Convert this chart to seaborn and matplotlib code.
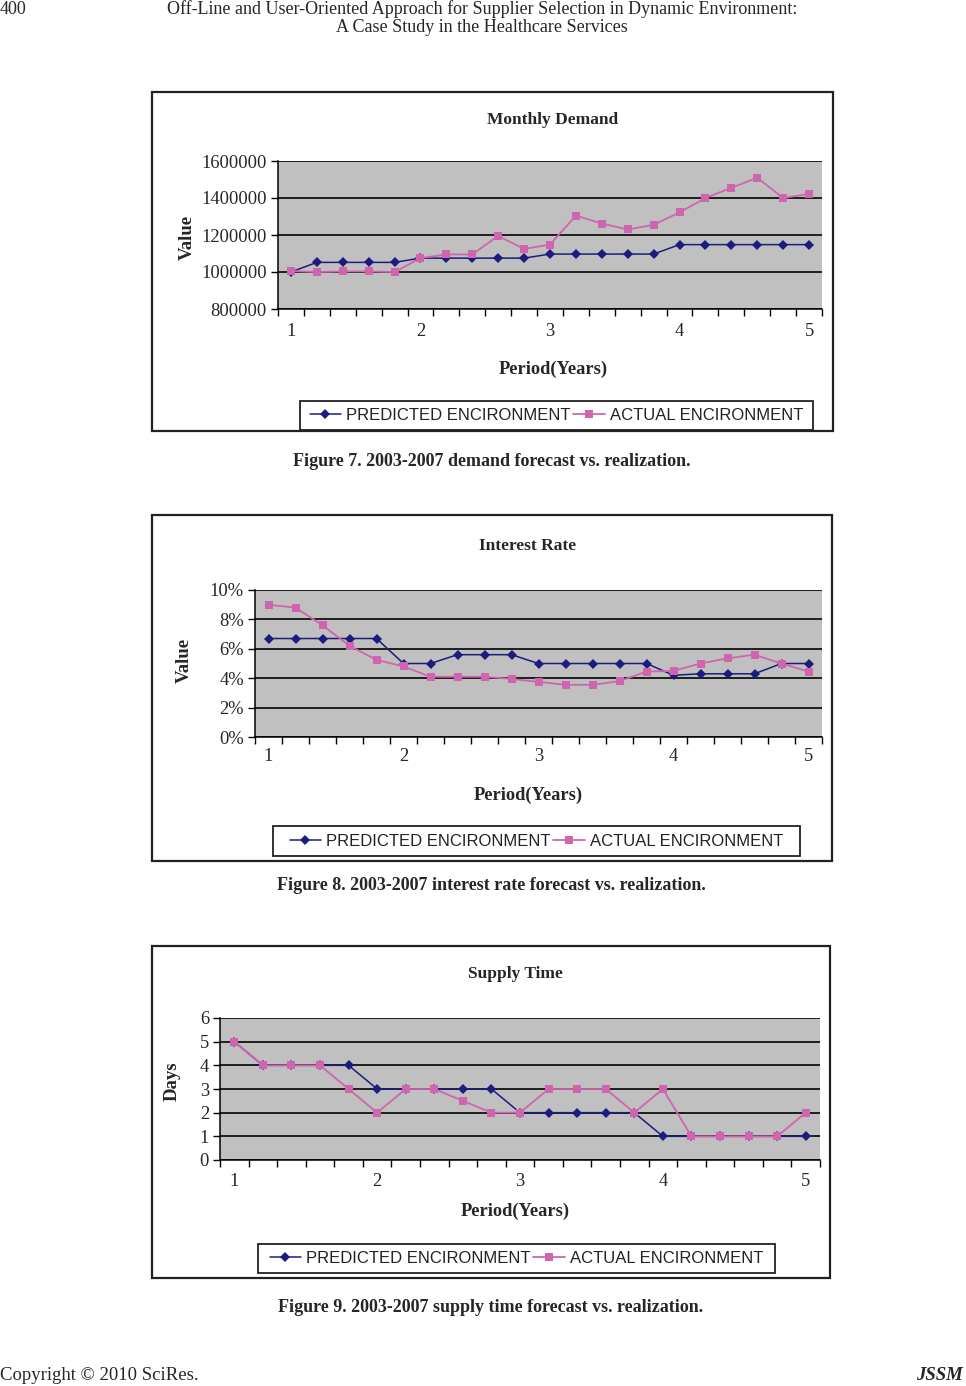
import numpy as np
import pandas as pd
import matplotlib
matplotlib.use("Agg")
import matplotlib.pyplot as plt
import seaborn as sns
from matplotlib.patches import Rectangle

# ---------------- data ----------------
period_labels = ["1", "2", "3", "4", "5"]
label_positions = [0, 5, 10, 15, 20]
series_names = ["PREDICTED ENCIRONMENT", "ACTUAL ENCIRONMENT"]

demand_predicted = [1000000, 1052000, 1052000, 1052000, 1052000, 1075000, 1075000,
                    1075000, 1075000, 1075000, 1097000, 1097000, 1097000, 1097000,
                    1097000, 1148000, 1148000, 1148000, 1148000, 1148000, 1148000]
demand_actual = [1005000, 1000000, 1003000, 1003000, 1000000, 1075000, 1095000,
                 1095000, 1195000, 1125000, 1148000, 1305000, 1262000, 1230000,
                 1255000, 1322000, 1400000, 1455000, 1510000, 1400000, 1422000]

interest_predicted = [6.7, 6.7, 6.7, 6.7, 6.7, 5.0, 5.0, 5.6, 5.6, 5.6, 5.0, 5.0,
                      5.0, 5.0, 5.0, 4.2, 4.3, 4.3, 4.3, 5.0, 5.0]
interest_actual = [9.0, 8.8, 7.6, 6.2, 5.25, 4.8, 4.1, 4.1, 4.1, 3.95, 3.75, 3.55,
                   3.55, 3.8, 4.45, 4.5, 5.0, 5.35, 5.6, 5.0, 4.45]

supply_predicted = [5, 4, 4, 4, 4, 3, 3, 3, 3, 3, 2, 2, 2, 2, 2, 1, 1, 1, 1, 1, 1]
supply_actual = [5, 4, 4, 4, 3, 2, 3, 3, 2.5, 2, 2, 3, 3, 3, 2, 3, 1, 1, 1, 1, 2]

demand_yticks = [800000, 1000000, 1200000, 1400000, 1600000]
interest_yticks = [0, 2, 4, 6, 8, 10]
supply_yticks = [0, 1, 2, 3, 4, 5, 6]

# ---------------- style ----------------
sns.set_theme(style="white")
plt.rcParams["font.family"] = ["Liberation Serif", "DejaVu Serif"]

W, H = 966, 1386
fig = plt.figure(figsize=(W / 100, H / 100), dpi=100)
fig.patch.set_facecolor("white")

PRED_COLOR = "#1c1c80"
ACT_COLOR = "#cf66ad"
BG = "#c0c0c0"


def px_axes(left, top, right, bottom):
    return fig.add_axes([left / W, 1 - bottom / H, (right - left) / W, (bottom - top) / H])


def fig_rect(left, top, right, bottom, lw=1.4, color="#222222"):
    r = Rectangle((left / W, 1 - bottom / H), (right - left) / W, (bottom - top) / H,
                  transform=fig.transFigure, fill=False, edgecolor=color, linewidth=lw)
    fig.patches.append(r)


def make_chart(box, axbox, legbox, title, title_x, title_pad, ylabel, ylab_xy,
               xlab_xy, pred, act, yticks, ylim, yfmt, tick_pad_x):
    fig_rect(*box, lw=1.6)
    ax = px_axes(*axbox)
    ax.set_facecolor(BG)
    n = len(pred)
    df = pd.DataFrame({
        "idx": list(range(n)) * 2,
        "value": list(pred) + list(act),
        "series": [series_names[0]] * n + [series_names[1]] * n,
    })
    sns.lineplot(data=df[df.series == series_names[0]], x="idx", y="value", ax=ax,
                 color=PRED_COLOR, marker="D", markersize=5.5, markeredgewidth=0,
                 linewidth=1.1, legend=False, errorbar=None, label=series_names[0])
    sns.lineplot(data=df[df.series == series_names[1]], x="idx", y="value", ax=ax,
                 color=ACT_COLOR, marker="s", markersize=6.2, markeredgewidth=0,
                 linewidth=1.3, legend=False, errorbar=None, label=series_names[1])
    ax.set_xlim(-0.5, n - 0.5)
    ax.set_ylim(*ylim)
    # y axis
    ax.set_yticks(yticks)
    ax.set_yticklabels([yfmt(v) for v in yticks])
    ax.yaxis.grid(True, color="#111111", linewidth=1.3)
    ax.xaxis.grid(False)
    ax.set_axisbelow(True)
    # x axis: tick marks between categories, labels at period starts
    ax.set_xticks(np.arange(-0.5, n, 1.0))
    ax.set_xticklabels([])
    ax.set_xticks(label_positions, minor=True)
    ax.set_xticklabels(period_labels, minor=True)
    ax.tick_params(axis="x", which="major", direction="out", length=5, width=1,
                   color="black", bottom=True)
    ax.tick_params(axis="x", which="minor", length=0, pad=tick_pad_x, labelsize=13.3)
    ax.tick_params(axis="y", direction="out", length=5, width=1, color="black",
                   left=True, pad=3, labelsize=13.3)
    for s in ["top", "right"]:
        ax.spines[s].set_visible(False)
    for s in ["left", "bottom"]:
        ax.spines[s].set_color("black")
        ax.spines[s].set_linewidth(1.1)
    # labels
    ax.set_title(title, fontsize=12.5, fontweight="bold", x=title_x, pad=title_pad)
    ax.set_xlabel("Period(Years)", fontsize=13.2, fontweight="bold")
    ax.xaxis.set_label_coords(*xlab_xy)
    ax.set_ylabel(ylabel, fontsize=13.5, fontweight="bold")
    ax.yaxis.set_label_coords(*ylab_xy)
    # legend
    fig_rect(*legbox, lw=1.3)
    cx = (legbox[0] + legbox[2]) / 2 / W
    cy = 1 - (legbox[1] + legbox[3]) / 2 / H
    handles = ax.get_lines()[:2]
    fig.legend(handles, series_names, loc="center", bbox_to_anchor=(cx, cy), ncol=2,
               frameon=False, handlelength=1.9, handletextpad=0.3, columnspacing=0.15,
               labelcolor="#222222",
               prop={"family": "Liberation Sans", "size": 12})
    return ax


# Chart 1 - Monthly Demand
ax1 = make_chart(box=(152, 92, 833, 431), axbox=(278, 161, 822, 309),
                 legbox=(300, 401, 813, 430), title="Monthly Demand",
                 title_x=0.504, title_pad=27, ylabel="Value",
                 ylab_xy=(-0.152, 0.486), xlab_xy=(0.505, -0.35),
                 pred=demand_predicted, act=demand_actual, yticks=demand_yticks,
                 ylim=(800000, 1600000), yfmt=lambda v: f"{v:d}", tick_pad_x=10)

# Chart 2 - Interest Rate
ax2 = make_chart(box=(152, 515, 832, 861), axbox=(255, 590, 822, 737),
                 legbox=(273, 826, 800, 856), title="Interest Rate",
                 title_x=0.481, title_pad=29, ylabel="Value",
                 ylab_xy=(-0.11, 0.52), xlab_xy=(0.481, -0.34),
                 pred=interest_predicted, act=interest_actual, yticks=interest_yticks,
                 ylim=(0, 10), yfmt=lambda v: f"{v:d}%", tick_pad_x=8)

# Chart 3 - Supply Time
ax3 = make_chart(box=(152, 946, 830, 1278), axbox=(220, 1018, 820, 1160),
                 legbox=(258, 1244, 775, 1273), title="Supply Time",
                 title_x=0.492, title_pad=29, ylabel="Days",
                 ylab_xy=(-0.066, 0.556), xlab_xy=(0.492, -0.30),
                 pred=supply_predicted, act=supply_actual, yticks=supply_yticks,
                 ylim=(0, 6), yfmt=lambda v: f"{v:d}", tick_pad_x=9)

# ---------------- page text ----------------
def ftext(x, y, s, **kw):
    fig.text(x / W, 1 - y / H, s, **kw)

ftext(0, 9, "400", fontsize=13, ha="left", va="center")
ftext(482, 9, "Off-Line and User-Oriented Approach for Supplier Selection in Dynamic Environment:",
      fontsize=13, ha="center", va="center")
ftext(482, 28, "A Case Study in the Healthcare Services", fontsize=13, ha="center", va="center")

ftext(492, 461, "Figure 7. 2003-2007 demand forecast vs. realization.", fontsize=13,
      fontweight="bold", ha="center", va="center")
ftext(491, 886, "Figure 8. 2003-2007 interest rate forecast vs. realization.", fontsize=13,
      fontweight="bold", ha="center", va="center")
ftext(491, 1308, "Figure 9. 2003-2007 supply time forecast vs. realization.", fontsize=13,
      fontweight="bold", ha="center", va="center")

ftext(0, 1376, "Copyright © 2010 SciRes.", fontsize=13.5, ha="left", va="center")
ftext(963, 1376, "JSSM", fontsize=13.5, fontweight="bold", fontstyle="italic",
      ha="right", va="center")

fig.savefig("out.png", dpi=100)
